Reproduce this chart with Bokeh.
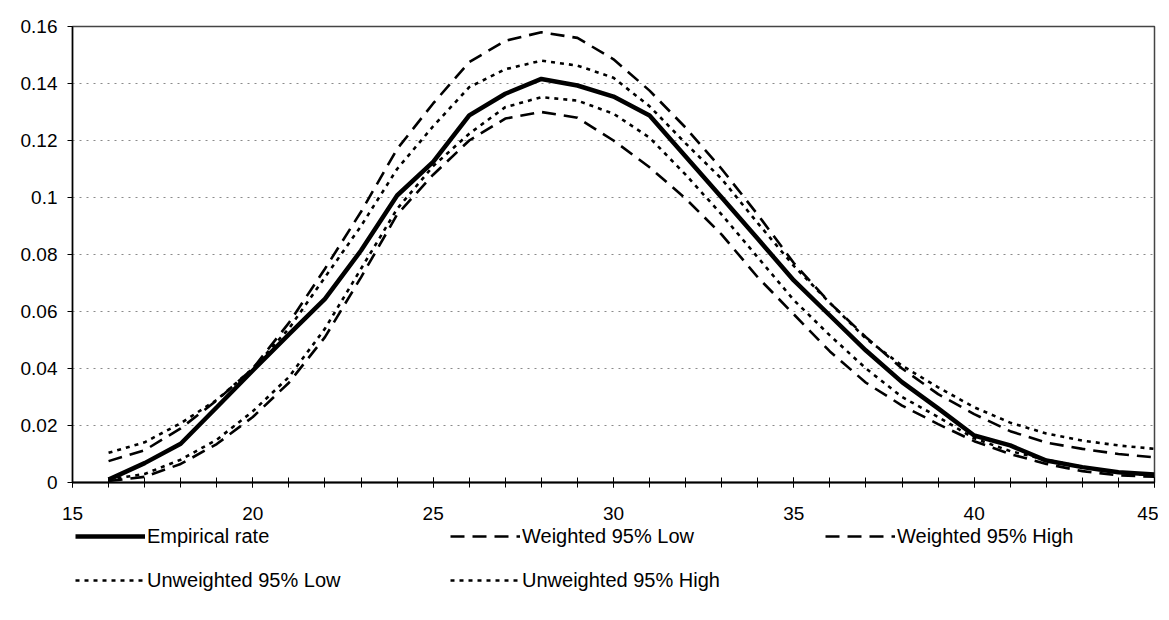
from bokeh.plotting import figure
from bokeh.models import FixedTicker, Legend, LegendItem, Range1d
from bokeh.layouts import column
from bokeh.embed import file_html
from bokeh.resources import INLINE

# ---- data ----
ages = list(range(16, 46))
empirical = [0.001, 0.0068, 0.0136, 0.0264, 0.0393, 0.052, 0.0644, 0.0814, 0.1007, 0.1125,
             0.1288, 0.1364, 0.1416, 0.1393, 0.1354, 0.1288, 0.1144, 0.1, 0.0855, 0.0709,
             0.0586, 0.0463, 0.0352, 0.026, 0.0165, 0.013, 0.0077, 0.0054, 0.0036, 0.0028]
weighted_low = [0.0005, 0.002, 0.0065, 0.0135, 0.023, 0.035, 0.051, 0.072, 0.094, 0.108,
                0.12, 0.1277, 0.13, 0.128, 0.12, 0.1106, 0.0996, 0.087, 0.072, 0.059,
                0.046, 0.035, 0.027, 0.0205, 0.0145, 0.01, 0.0065, 0.004, 0.0025, 0.002]
weighted_high = [0.0075, 0.0113, 0.019, 0.0288, 0.04, 0.056, 0.075, 0.095, 0.117, 0.133,
                 0.1475, 0.155, 0.158, 0.156, 0.1485, 0.1375, 0.1245, 0.11, 0.094, 0.077,
                 0.063, 0.051, 0.04, 0.031, 0.024, 0.018, 0.014, 0.0118, 0.01, 0.0088]
unweighted_low = [0.001, 0.003, 0.008, 0.015, 0.025, 0.037, 0.054, 0.075, 0.096, 0.111,
                  0.1224, 0.1317, 0.1352, 0.134, 0.1294, 0.121, 0.108, 0.094, 0.079, 0.064,
                  0.0516, 0.04, 0.03, 0.023, 0.0155, 0.011, 0.008, 0.0055, 0.0035, 0.0025]
unweighted_high = [0.0104, 0.0141, 0.0208, 0.029, 0.04, 0.054, 0.072, 0.09, 0.11, 0.125,
                   0.1387, 0.145, 0.148, 0.1463, 0.142, 0.132, 0.119, 0.1065, 0.091, 0.076,
                   0.063, 0.0505, 0.041, 0.0334, 0.0264, 0.021, 0.0172, 0.0147, 0.013, 0.0118]

series_labels = ["Empirical rate", "Weighted 95% Low", "Weighted 95% High",
                 "Unweighted 95% Low", "Unweighted 95% High"]

x_ticks = [15, 20, 25, 30, 35, 40, 45]
x_minor_ticks = list(range(15, 46))
y_ticks = [0, 0.02, 0.04, 0.06, 0.08, 0.1, 0.12, 0.14, 0.16]
y_labels = ["0", "0.02", "0.04", "0.06", "0.08", "0.1", "0.12", "0.14", "0.16"]

FONT = "Liberation Sans"
TOTAL_W = 1158

styles = [
    dict(line_color="black", line_width=4.5),
    dict(line_color="black", line_width=2.6, line_dash="14 8"),
    dict(line_color="black", line_width=2.6, line_dash="14 8"),
    dict(line_color="black", line_width=2.6, line_dash="4 5"),
    dict(line_color="black", line_width=2.6, line_dash="4 5"),
]
series = [empirical, weighted_low, weighted_high, unweighted_low, unweighted_high]

p = figure(frame_width=1082, frame_height=456,
           x_range=Range1d(15, 45), y_range=Range1d(0, 0.16),
           output_backend="svg", toolbar_location=None,
           min_border_left=72, min_border_top=26, min_border_right=4,
           min_border_bottom=0)

p.background_fill_color = "white"
p.border_fill_color = "white"
p.outline_line_color = "#444444"
p.outline_line_width = 1.5

# x axis
p.xaxis.ticker = FixedTicker(ticks=x_ticks, minor_ticks=x_minor_ticks)
p.xaxis.axis_line_color = "black"
p.xaxis.axis_line_width = 2
p.xaxis.major_tick_in = 5
p.xaxis.major_tick_out = 5
p.xaxis.minor_tick_in = 5
p.xaxis.minor_tick_out = 5
p.xaxis.major_tick_line_color = "black"
p.xaxis.minor_tick_line_color = "black"
p.xaxis.major_label_text_font = FONT
p.xaxis.major_label_text_font_size = "19px"
p.xaxis.major_label_text_color = "black"
p.xaxis.major_label_standoff = 19

# y axis
p.yaxis.ticker = FixedTicker(ticks=y_ticks, minor_ticks=[])
p.yaxis.major_label_overrides = dict(zip(y_ticks, y_labels))
p.yaxis.axis_line_color = "black"
p.yaxis.axis_line_width = 1.5
p.yaxis.major_tick_in = 0
p.yaxis.major_tick_out = 5
p.yaxis.major_tick_line_color = "black"
p.yaxis.major_label_text_font = FONT
p.yaxis.major_label_text_font_size = "19px"
p.yaxis.major_label_text_color = "black"
p.yaxis.major_label_standoff = 10

p.xgrid.visible = False
p.ygrid.grid_line_color = "#8a8a8a"
p.ygrid.grid_line_dash = "2 5"
p.ygrid.grid_line_width = 1

for ys, st in zip(series, styles):
    p.line(ages, ys, **st)

# ---- legend strip below the chart ----
LEG_H = 92
p2 = figure(width=TOTAL_W, height=LEG_H, x_range=Range1d(0, 1), y_range=Range1d(0, 1),
            x_axis_type=None, y_axis_type=None, min_border=0,
            output_backend="svg", toolbar_location=None)
p2.outline_line_color = None
p2.xgrid.visible = False
p2.ygrid.visible = False
p2.background_fill_color = "white"
p2.border_fill_color = "white"

# legend sample renderers: same series, lying outside this strip's ranges (not visible)
sample = [p2.line(ages, ys, **st) for ys, st in zip(series, styles)]
items = [LegendItem(label=lab, renderers=[r]) for lab, r in zip(series_labels, sample)]

ROW_H = 24
legend_style = dict(orientation="horizontal",
                    glyph_width=70, glyph_height=ROW_H, label_width=283, label_height=ROW_H,
                    label_standoff=2, spacing=20, padding=0, margin=0,
                    border_line_color=None, background_fill_alpha=0,
                    label_text_font=FONT, label_text_font_size="20px",
                    label_text_color="black", label_text_baseline="middle")

legend1 = Legend(items=items[:3], location=(3, LEG_H - ROW_H - 2), **legend_style)
legend2 = Legend(items=items[3:], location=(3, LEG_H - ROW_H - 46), **legend_style)
p2.add_layout(legend1)
p2.add_layout(legend2)

layout = column(p, p2, spacing=0)
open("out.html", "w").write(file_html(layout, INLINE))
